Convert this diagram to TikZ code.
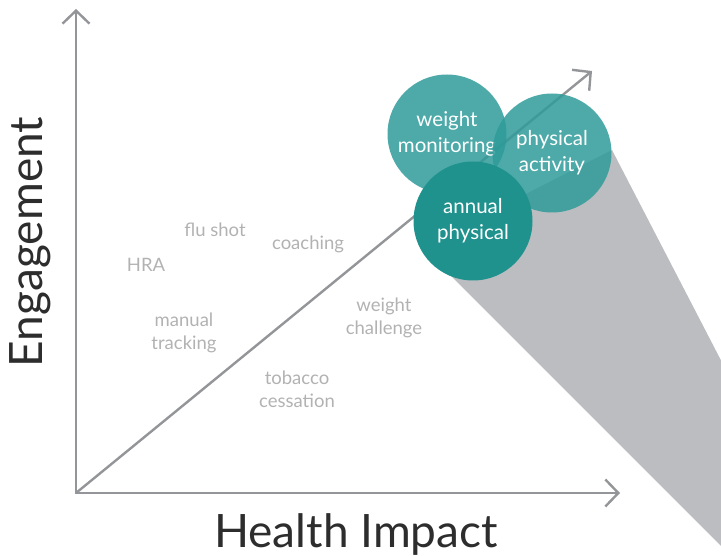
\documentclass[tikz,border=0pt]{standalone}
\usepackage{fontspec}
\setmainfont{Lato}
\usepackage{tikz}
\usetikzlibrary{positioning}
\usetikzlibrary{arrows.meta}

\definecolor{axisgray}{RGB}{147,149,152}
\definecolor{shadowgray}{RGB}{188,189,192}
\definecolor{lightteal}{RGB}{46,155,154}
\definecolor{darkteal}{RGB}{31,146,142}
\definecolor{labelgray}{RGB}{45,45,45}
\definecolor{blurgray}{RGB}{178,178,178}

\tikzset{
  axis/.style={axisgray, line width=2.4pt, line cap=round, -{Straight Barb[length=13pt,width=27pt,line width=2.4pt]}},
  bubble/.style={circle, minimum size=119pt, inner sep=0pt, text=white, align=center, font=\fontsize{20.5}{26}\selectfont},
  faded/.style={blurgray, align=center, font=\fontsize{18.5}{23}\selectfont},
  axislabel/.style={labelgray, anchor=base, font=\fontsize{46}{46}\selectfont}
}

\begin{document}
\begin{tikzpicture}[x=1pt,y=-1pt]

\useasboundingbox (0,0) rectangle (721,556);

\coordinate (origin) at (76,493);
\coordinate (ytip) at (76,9);
\coordinate (xtip) at (620,493);
\coordinate (dtip) at (592,71);

% shadow
\begin{scope}
\clip (0,0) rectangle (721,556);
\fill[shadowgray] (440,265) -- (740,565) -- (827,565) -- (612,150) -- (473,221) -- cycle;
\end{scope}

% axes
\draw[axis] (origin) -- (ytip);
\draw[axis] (origin) -- (xtip);
\draw[axis] (origin) -- (dtip);

% faded items
{
\node[faded] (flu) at (215,230) {flu shot};
\node[faded] (coach) at (308,244) {coaching};
\node[faded] (hra) at (146,265) {HRA};
\node[faded] (manual) at (184,333) {manual\\tracking};
\node[faded] (wchal) at (384,318) {weight\\challenge};
\node[faded] (tobacco) at (297,389) {tobacco\\cessation};
}

% bubbles
{
\node[bubble, fill=lightteal, fill opacity=0.85, text opacity=1] (wmon) at (447,134) {weight\\monitoring};
\node[bubble, fill=lightteal, fill opacity=0.85, text opacity=1] (pact) at (552,153) {physical\\activity};
\node[bubble, fill=darkteal] (annual) at (473,221) {annual\\physical};
}

% axis labels
\node[axislabel, rotate=90] (eng) at (42,242) {Engagement};
\node[axislabel] (health) at (356,547) {Health Impact};

\end{tikzpicture}
\end{document}
